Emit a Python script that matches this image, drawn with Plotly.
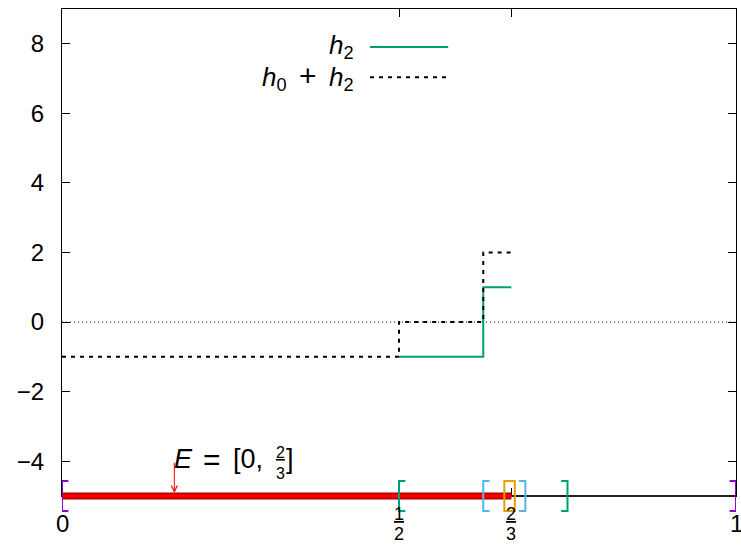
import plotly.graph_objects as go

# ---------------- data ----------------
x_tick_vals = [0, 1/2, 2/3, 1]
x_tick_num = ["0", "1", "2", "1"]
x_tick_den = [None, "2", "3", None]
y_tick_vals = [-4, -2, 0, 2, 4, 6, 8]

h2_x = [1/2, 5/8, 2/3]
h2_y = [-1, 1, 1]

h0h2_x = [0, 1/2, 5/8, 2/3]
h0h2_y = [-1, 0, 2, 2]

zero_x = [0, 1]
zero_y = [0, 0]

# E = [0, 2/3] on the number line at y = -5
E_left, E_right = 0, 2/3
number_line = [0, 1]
axis_level = -5

# nested intervals (left, right, colour)
interval_left = [0, 1/2, 5/8, 21/32]
interval_right = [1, 3/4, 11/16, 43/64]
interval_color = ["#9400d3", "#009e73", "#56b4e9", "#e69f00"]

arrow_x = 1/6
arrow_from_y = -4

TS = "\u2009"  # thin space
legend_names = ["<i>h</i><sub>2</sub>",
                "<i>h</i><sub>0</sub>" + TS + "&nbsp;<span style='font-size:30px'>+</span>&nbsp;" + TS + "<i>h</i><sub>2</sub>"]
legend_colors = ["#009e73", "black"]
legend_dash = ["solid", "4px,5px"]

FONT = "Liberation Sans"

fig = go.Figure()

fig.add_trace(go.Scatter(x=zero_x, y=zero_y, mode="lines",
                         line=dict(color="black", width=1, dash="1px,3px"),
                         showlegend=False, hoverinfo="skip"))
fig.add_trace(go.Scatter(x=h2_x, y=h2_y, mode="lines", line_shape="hv",
                         line=dict(color=legend_colors[0], width=2, dash=legend_dash[0]),
                         name="h2", showlegend=False))
fig.add_trace(go.Scatter(x=h0h2_x, y=h0h2_y, mode="lines", line_shape="hv",
                         line=dict(color=legend_colors[1], width=2, dash=legend_dash[1]),
                         name="h0+h2", showlegend=False))

shapes = []
# number line (bottom)
shapes.append(dict(type="line", xref="x", yref="y domain", x0=number_line[0], x1=number_line[1],
                   y0=0, y1=0, line=dict(color="#222222", width=2)))
# E interval (red thick)
shapes.append(dict(type="line", xref="x", yref="y domain", x0=E_left, x1=E_right,
                   y0=0, y1=0, line=dict(color="#b00000", width=7)))
shapes.append(dict(type="line", xref="x", yref="y domain", x0=E_left, x1=E_right,
                   y0=0, y1=0, line=dict(color="#ff0000", width=3.5)))
# brackets
h = 0.031
arm = 0.0095
for L, R, c in zip(interval_left, interval_right, interval_color):
    shapes.append(dict(type="path", xref="x", yref="y domain",
                       path=f"M {L+arm},{-h} L {L},{-h} L {L},{h} L {L+arm},{h}",
                       line=dict(color=c, width=2)))
    shapes.append(dict(type="path", xref="x", yref="y domain",
                       path=f"M {R-arm},{-h} L {R},{-h} L {R},{h} L {R-arm},{h}",
                       line=dict(color=c, width=2)))

annotations = []
# x tick labels
for xv, num, den in zip(x_tick_vals, x_tick_num, x_tick_den):
    if den is None:
        annotations.append(dict(x=xv, y=0, xref="x", yref="paper", text=num, showarrow=False,
                                yanchor="top", yshift=-12, font=dict(size=24, color="black", family=FONT)))
    else:
        annotations.append(dict(x=xv, y=0, xref="x", yref="paper", text=f"<u>{num}</u>",
                                showarrow=False, yanchor="top", yshift=-6,
                                font=dict(size=18, color="black", family=FONT)))
        annotations.append(dict(x=xv, y=0, xref="x", yref="paper", text=den,
                                showarrow=False, yanchor="top", yshift=-26,
                                font=dict(size=18, color="black", family=FONT)))

# arrow pointing at E
annotations.append(dict(x=arrow_x, y=axis_level, xref="x", yref="y", ax=arrow_x, ay=arrow_from_y,
                        axref="x", ayref="y", text="", showarrow=True, arrowhead=5, arrowsize=1.2,
                        arrowwidth=1, arrowcolor="red", standoff=3))
# label E = [0, 2/3]
lab_font = dict(size=27, color="black", family=FONT)
annotations.append(dict(x=arrow_x, y=arrow_from_y, xref="x", yref="y", text="<i>E</i>",
                        showarrow=False, xanchor="left", yanchor="middle", xshift=-2, yshift=2,
                        font=lab_font))
annotations.append(dict(x=arrow_x, y=arrow_from_y, xref="x", yref="y", text="=",
                        showarrow=False, xanchor="center", yanchor="middle", xshift=38, yshift=2,
                        font=dict(size=30, color="black", family=FONT)))
annotations.append(dict(x=arrow_x, y=arrow_from_y, xref="x", yref="y", text="[0,",
                        showarrow=False, xanchor="left", yanchor="middle", xshift=57, yshift=2,
                        font=lab_font))
annotations.append(dict(x=arrow_x, y=arrow_from_y, xref="x", yref="y", text="<u>2</u>",
                        showarrow=False, xanchor="center", yanchor="bottom", xshift=106, yshift=-2,
                        font=dict(size=16, color="black", family=FONT)))
annotations.append(dict(x=arrow_x, y=arrow_from_y, xref="x", yref="y", text="3",
                        showarrow=False, xanchor="center", yanchor="top", xshift=106, yshift=-2,
                        font=dict(size=16, color="black", family=FONT)))
annotations.append(dict(x=arrow_x, y=arrow_from_y, xref="x", yref="y", text="]",
                        showarrow=False, xanchor="left", yanchor="middle", xshift=110, yshift=2,
                        font=lab_font))

# manual legend (text on the left, sample on the right)
leg_y = [0.922, 0.860]
for name, col, dsh, yy in zip(legend_names, legend_colors, legend_dash, leg_y):
    annotations.append(dict(x=0.436, y=yy, xref="paper", yref="paper", text=name, showarrow=False,
                            xanchor="right", yanchor="middle", font=dict(size=26, color="black", family=FONT)))
    shapes.append(dict(type="line", xref="paper", yref="paper", x0=0.457, x1=0.573, y0=yy, y1=yy,
                       line=dict(color=col, width=2, dash=dsh)))

fig.update_layout(
    width=741, height=545,
    margin=dict(l=62, r=5, t=9, b=49, autoexpand=False),
    plot_bgcolor="white", paper_bgcolor="white",
    font=dict(family=FONT, size=24, color="black"),
    shapes=shapes, annotations=annotations,
    showlegend=False,
)
fig.update_xaxes(range=[0, 1], tickvals=x_tick_vals, showticklabels=False, automargin=False,
                 ticks="inside", ticklen=8, tickcolor="black", showgrid=False, zeroline=False,
                 showline=True, linecolor="black", linewidth=1, mirror="ticks")
fig.update_yaxes(range=[-5, 9], tickvals=y_tick_vals, ticks="inside", ticklen=8, automargin=False,
                 tickcolor="black", showgrid=False, zeroline=False, showline=True,
                 linecolor="black", linewidth=1, mirror="ticks", ticklabelstandoff=12,
                 tickfont=dict(size=24, family=FONT))

fig.write_html("out.html", config={"displayModeBar": False},
               post_script="document.body.style.margin='0';document.body.style.padding='0';"
                           "document.body.style.overflow='hidden';")
